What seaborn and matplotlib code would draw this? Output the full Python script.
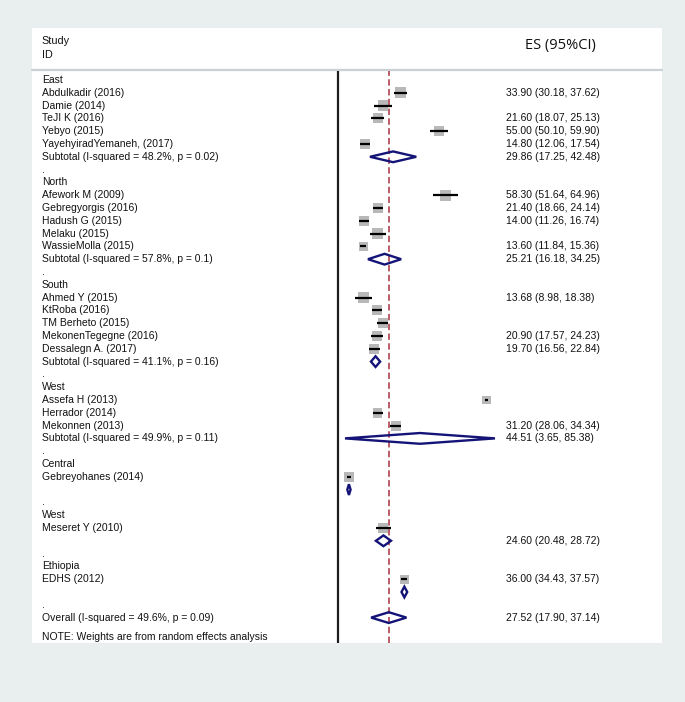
import numpy as np
import pandas as pd
import matplotlib
matplotlib.use('Agg')
import matplotlib.pyplot as plt
import matplotlib.transforms as mtransforms
from matplotlib.patches import Rectangle
import seaborn as sns

### Data ###

group_names = ['East', 'North', 'South', 'West', 'Central', 'West', 'Ethiopia']
group_sizes = [5, 5, 5, 3, 1, 1, 1]

study_labels = ['Abdulkadir (2016)', 'Damie (2014)', 'TeJI K (2016)', 'Yebyo (2015)', 'YayehyiradYemaneh, (2017)',
                'Afework M (2009)', 'Gebregyorgis (2016)', 'Hadush G (2015)', 'Melaku (2015)', 'WassieMolla (2015)',
                'Ahmed Y (2015)', 'KtRoba (2016)', 'TM Berheto (2015)', 'MekonenTegegne (2016)', 'Dessalegn A. (2017)',
                'Assefa H (2013)', 'Herrador (2014)', 'Mekonnen (2013)',
                'Gebreyohanes (2014)',
                'Meseret Y (2010)',
                'EDHS (2012)']
study_es = [33.90, 24.2, 21.60, 55.00, 14.80,
            58.30, 21.40, 14.00, 21.5, 13.60,
            13.68, 21.3, 24.2, 20.90, 19.70,
            80.9, 21.4, 31.20,
            5.8,
            24.60,
            36.00]
study_lo = [30.18, 19.6, 18.07, 50.10, 12.06,
            51.64, 18.66, 11.26, 17.3, 11.84,
            8.98, 18.6, 21.3, 17.57, 16.56,
            80.1, 18.7, 28.06,
            4.9,
            20.48,
            34.43]
study_hi = [37.62, 29.1, 25.13, 59.90, 17.54,
            64.96, 24.14, 16.74, 25.8, 15.36,
            18.38, 24.0, 27.2, 24.23, 22.84,
            81.7, 24.2, 34.34,
            6.7,
            28.72,
            37.57]
# square size (relative weight)
study_wt = [5.0, 4.8, 4.6, 4.8, 4.6,
            5.2, 4.6, 4.6, 5.0, 4.2,
            4.8, 4.6, 4.8, 4.6, 4.6,
            4.0, 4.4, 4.6,
            4.4,
            4.6,
            4.0]
study_show_text = [True, False, True, True, True,
                   True, True, True, False, True,
                   True, False, False, True, True,
                   False, False, True,
                   False,
                   False,
                   True]

sub_labels = ['Subtotal (I-squared = 48.2%, p = 0.02)', 'Subtotal (I-squared = 57.8%, p = 0.1)',
              'Subtotal (I-squared = 41.1%, p = 0.16)', 'Subtotal (I-squared = 49.9%, p = 0.11)', '', '', '']
sub_es = [29.86, 25.21, 20.3, 44.51, 5.8, 24.60, 36.00]
sub_lo = [17.25, 16.18, 17.8, 3.65, 4.9, 20.48, 34.43]
sub_hi = [42.48, 34.25, 22.8, 85.38, 6.7, 28.72, 37.57]
sub_show_text = [True, True, False, True, False, True, False]

overall_label = 'Overall (I-squared = 49.6%, p = 0.09)'
overall_es, overall_lo, overall_hi = 27.52, 17.90, 37.14
note_text = 'NOTE: Weights are from random effects analysis'

### Build row table ###
rows = []
r = 0
k = 0
for g, (name, n) in enumerate(zip(group_names, group_sizes)):
    rows.append(dict(row=r, kind='head', label=name)); r += 1
    for i in range(n):
        rows.append(dict(row=r, kind='study', label=study_labels[k], es=study_es[k], lo=study_lo[k],
                         hi=study_hi[k], wt=study_wt[k], show=study_show_text[k])); r += 1; k += 1
    rows.append(dict(row=r, kind='sub', label=sub_labels[g], es=sub_es[g], lo=sub_lo[g], hi=sub_hi[g],
                     show=sub_show_text[g])); r += 1
    rows.append(dict(row=r, kind='dot', label='.')); r += 1
rows.append(dict(row=r, kind='overall', label=overall_label, es=overall_es, lo=overall_lo, hi=overall_hi, show=True))
overall_row = r
df = pd.DataFrame(rows)
studies = df[df.kind == 'study']
subs = df[df.kind.isin(['sub', 'overall'])]

### Figure ###
sns.set_style('white')
plt.rcParams['font.family'] = ['Liberation Sans', 'DejaVu Sans']

W, H = 685, 702
fig = plt.figure(figsize=(W / 100, H / 100), dpi=100)
fig.patch.set_facecolor('#e9eeee')

def fx(px):
    return px / W

def fy(py):
    return 1 - py / H

# white panel
fig.patches.append(Rectangle((fx(32), fy(643)), fx(662) - fx(32), fy(28) - fy(643),
                             transform=fig.transFigure, facecolor='white', edgecolor='none', zorder=-10))
fig.add_artist(plt.Line2D([fx(32), fx(662)], [fy(69.5), fy(69.5)], transform=fig.transFigure,
                          color='#c9d1d5', lw=1.6, zorder=-5))

fig.text(fx(41.7), fy(41.5), 'Study', fontsize=7.8, va='center', ha='left', color='#111111')
fig.text(fx(41.7), fy(54.5), 'ID', fontsize=7.8, va='center', ha='left', color='#111111')
fig.text(fx(560), fy(45), 'ES (95%CI)', fontsize=10.5, va='center', ha='center', color='#111111',
         family=['Open Sans', 'DejaVu Sans'])

ax = fig.add_axes([fx(32), fy(643), fx(662) - fx(32), fy(70.5) - fy(643)])
ax.set_facecolor('none')
px_per_unit = 1.835
x0 = 338.3
ax.set_xlim(-(x0 - 32) / px_per_unit, (662 - x0) / px_per_unit)
row0, row_h = 80.0, 12.8
ax.set_ylim((643 - row0) / row_h, (70.5 - row0) / row_h)
for s in ax.spines.values():
    s.set_visible(False)
ax.set_xticks([])
ax.set_yticks([])

# reference lines
ax.axvline(0, color='#1e1e1e', lw=1.6, zorder=1)
ax.axvline(overall_es, color='#a8323f', lw=1.1, dashes=(4.2, 2.2), zorder=1)

# weight squares
sns.scatterplot(data=studies, x='es', y='row', size='wt', sizes=(40, 62), marker='s',
                color='#b8b8b8', edgecolor='none', legend=False, ax=ax, zorder=2)
# confidence intervals
ax.hlines(studies['row'], studies['lo'], studies['hi'], color='black', lw=1.6, zorder=3)

# diamonds
dh = 0.42
for _, d in subs.iterrows():
    ax.fill([d.lo, d.es, d.hi, d.es], [d.row, d.row - dh, d.row, d.row + dh],
            facecolor='none', edgecolor='#141478', lw=1.7, zorder=4)

# text columns
tr = mtransforms.blended_transform_factory(ax.transAxes, ax.transData)
xl = (41.7 - 32) / 630
xr = (505.7 - 32) / 630
for _, d in df.iterrows():
    if d.label:
        ax.text(xl, d.row, d.label, transform=tr, fontsize=7.5, va='center', ha='left', color='#111111')
    if d.kind in ('study', 'sub', 'overall') and d.show:
        ax.text(xr, d.row, f'{d.es:.2f} ({d.lo:.2f}, {d.hi:.2f})', transform=tr, fontsize=7.5,
                va='center', ha='left', color='#111111')
ax.text(xl, overall_row + 1.5, note_text, transform=tr, fontsize=7.5, va='center', ha='left', color='#111111')

fig.savefig('out.png', dpi=100, facecolor=fig.get_facecolor())
